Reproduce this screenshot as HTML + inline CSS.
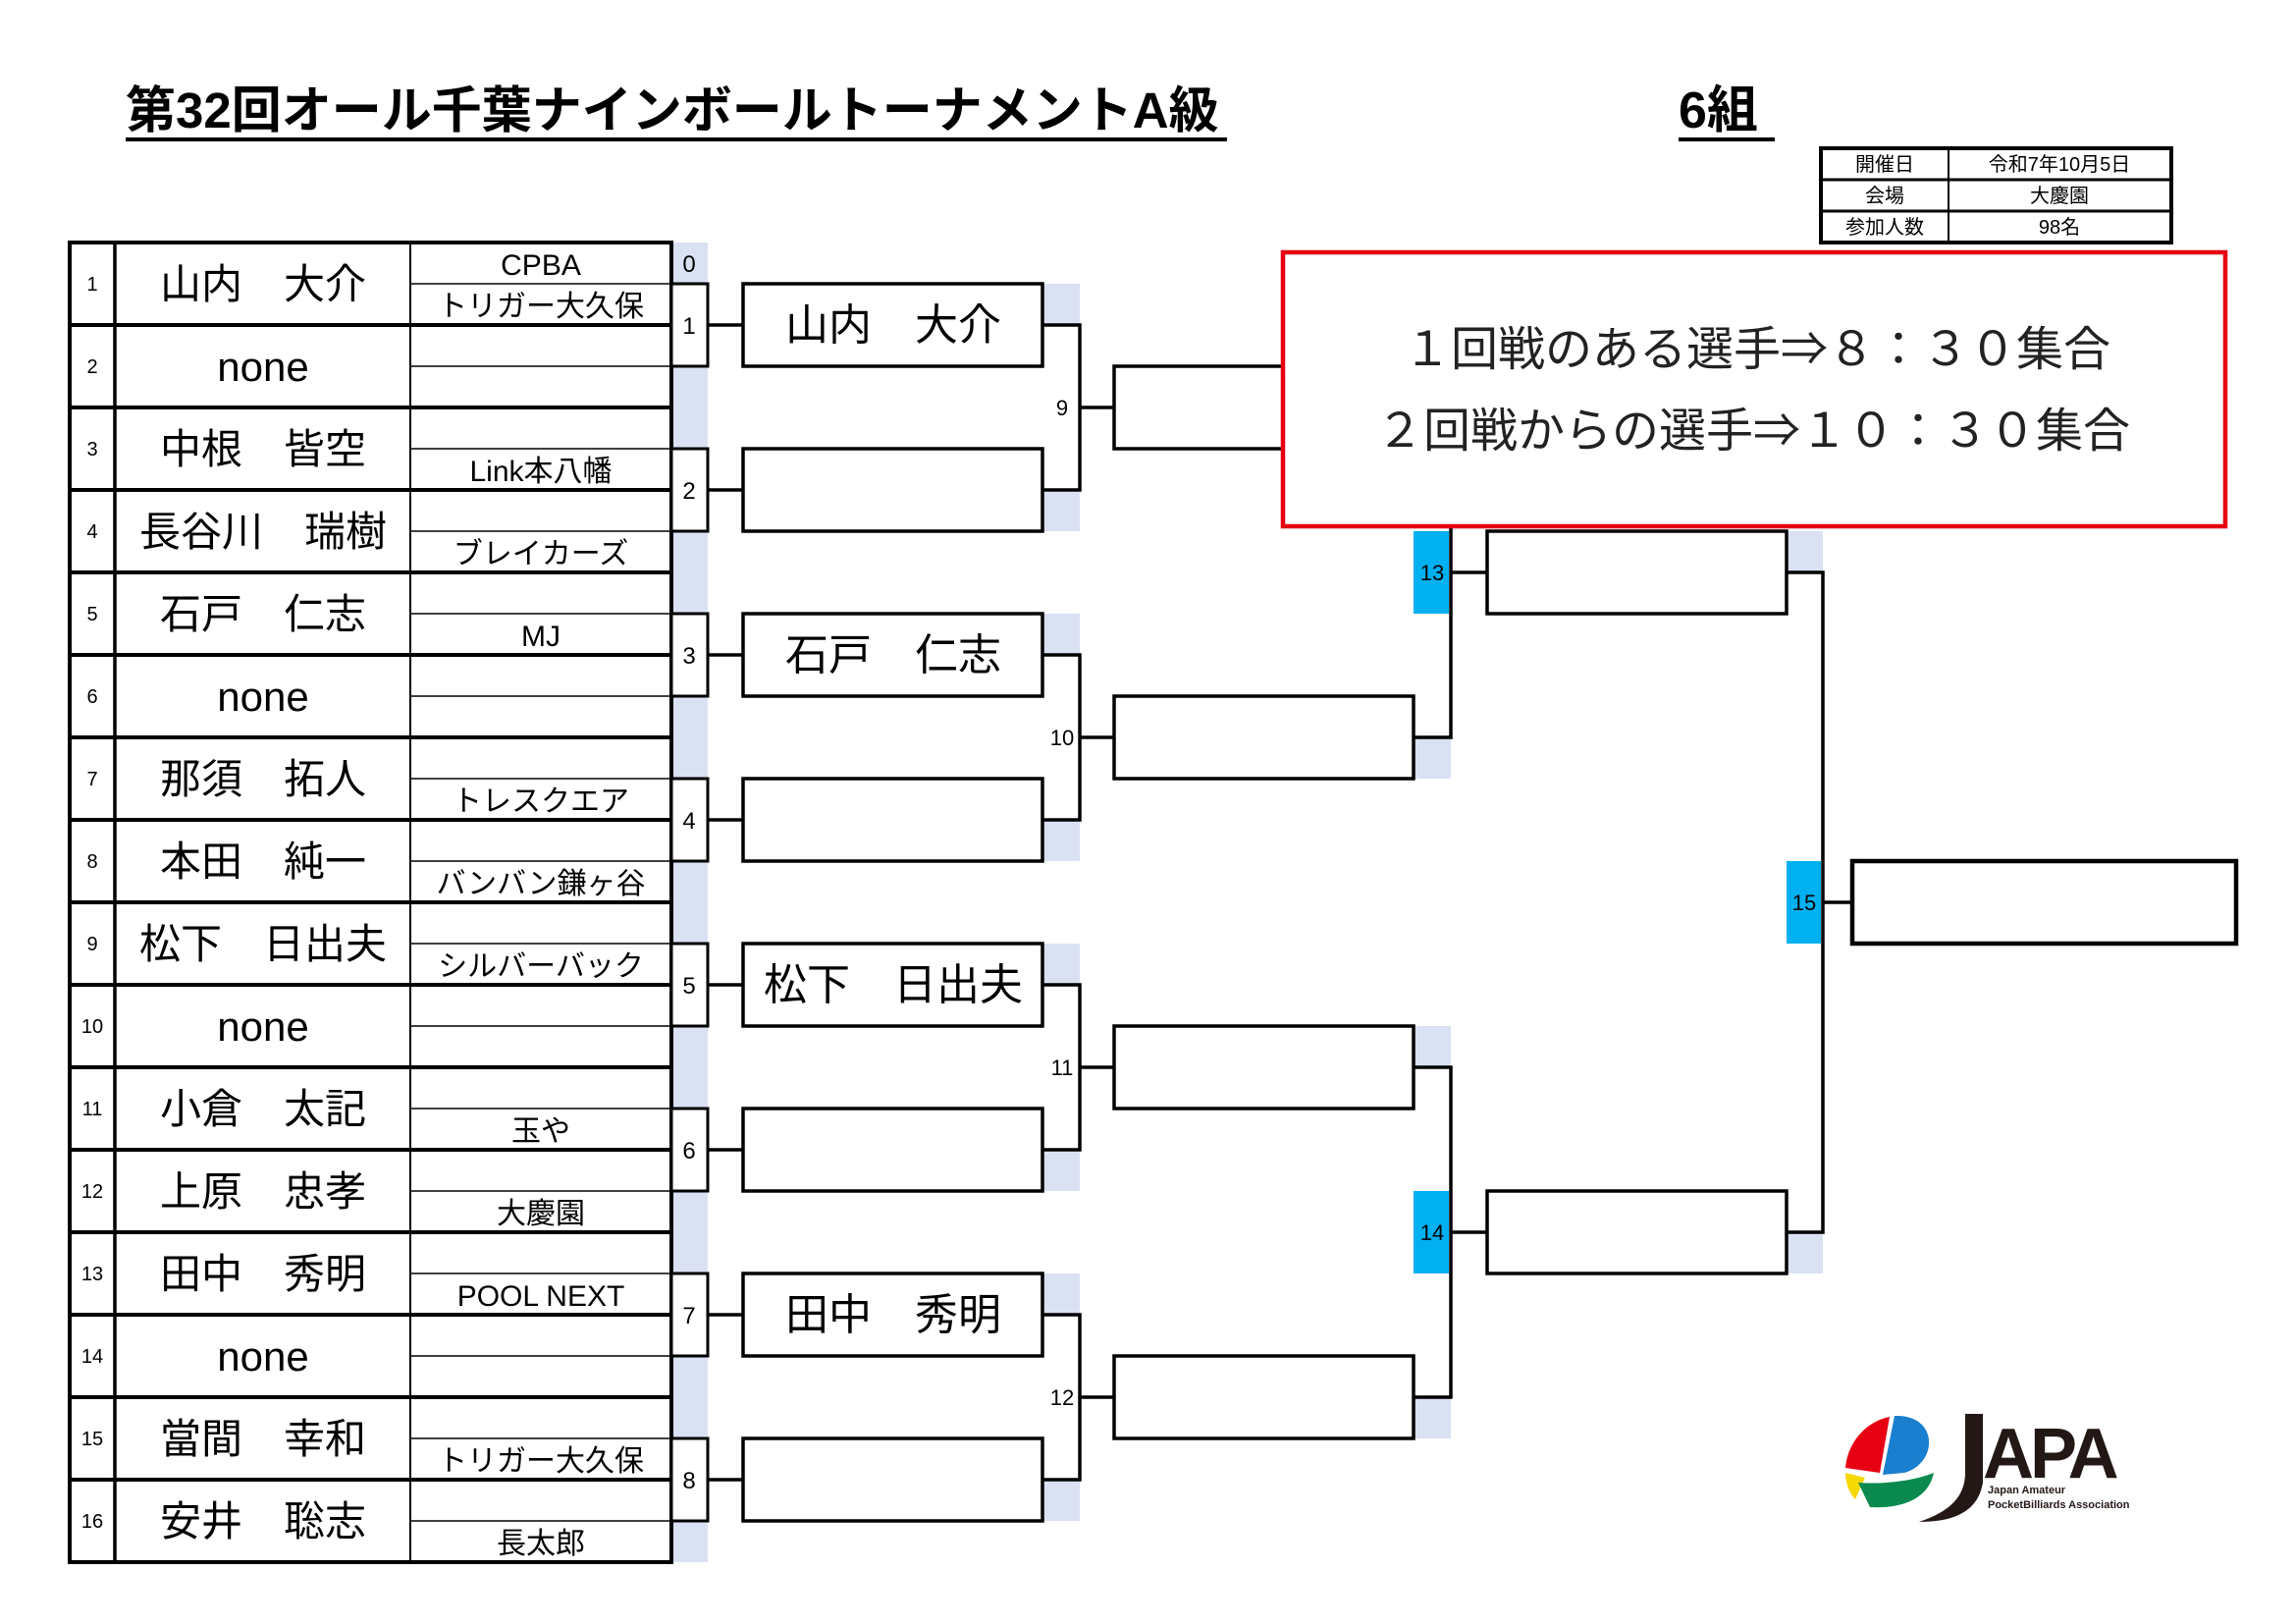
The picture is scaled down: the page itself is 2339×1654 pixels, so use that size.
<!DOCTYPE html>
<html><head><meta charset="utf-8"><style>
html,body{margin:0;padding:0;background:#fff;}
svg{display:block;}
text{font-family:"Liberation Sans","Noto Sans CJK JP",sans-serif;}
</style></head><body>
<svg width="2339" height="1654" viewBox="0 0 2339 1654" xmlns="http://www.w3.org/2000/svg">
<rect width="2339" height="1654" fill="#fff"/>
<!-- Title -->
<text x="128" y="130" font-size="51" font-weight="bold" fill="#000">第32回オール千葉ナインボールトーナメントA級</text>
<line x1="128" y1="142" x2="1250" y2="142" stroke="#000" stroke-width="4"/>
<text x="1710" y="130" font-size="52" font-weight="bold" fill="#000">6組</text>
<line x1="1710" y1="142" x2="1808" y2="142" stroke="#000" stroke-width="4"/>
<!-- Info table -->
<g stroke="#000" fill="none">
<rect x="1855" y="151" width="357" height="96" stroke-width="4"/>
<line x1="1985" y1="151" x2="1985" y2="247" stroke-width="2"/>
<line x1="1855" y1="183" x2="2212" y2="183" stroke-width="3"/>
<line x1="1855" y1="215" x2="2212" y2="215" stroke-width="3"/>
</g>
<g font-size="20" text-anchor="middle" fill="#000">
<text x="1920" y="174">開催日</text><text x="2098" y="174">令和7年10月5日</text>
<text x="1920" y="206">会場</text><text x="2098" y="206">大慶園</text>
<text x="1920" y="238">参加人数</text><text x="2098" y="238">98名</text>
</g>
<!-- shaded column -->
<rect x="684" y="247" width="37" height="1344" fill="#d9e1f2"/>
<!-- Main table lines -->
<g stroke="#000">
<g stroke-width="1.5">
<line x1="418" y1="289" x2="684" y2="289"/><line x1="418" y1="373" x2="684" y2="373"/>
<line x1="418" y1="457" x2="684" y2="457"/><line x1="418" y1="541" x2="684" y2="541"/>
<line x1="418" y1="625" x2="684" y2="625"/><line x1="418" y1="709" x2="684" y2="709"/>
<line x1="418" y1="793" x2="684" y2="793"/><line x1="418" y1="877" x2="684" y2="877"/>
<line x1="418" y1="961" x2="684" y2="961"/><line x1="418" y1="1045" x2="684" y2="1045"/>
<line x1="418" y1="1129" x2="684" y2="1129"/><line x1="418" y1="1213" x2="684" y2="1213"/>
<line x1="418" y1="1297" x2="684" y2="1297"/><line x1="418" y1="1381" x2="684" y2="1381"/>
<line x1="418" y1="1465" x2="684" y2="1465"/><line x1="418" y1="1549" x2="684" y2="1549"/>
</g>
<g stroke-width="4">
<line x1="71" y1="331" x2="684" y2="331"/><line x1="71" y1="415" x2="684" y2="415"/>
<line x1="71" y1="499" x2="684" y2="499"/><line x1="71" y1="583" x2="684" y2="583"/>
<line x1="71" y1="667" x2="684" y2="667"/><line x1="71" y1="751" x2="684" y2="751"/>
<line x1="71" y1="835" x2="684" y2="835"/><line x1="71" y1="919" x2="684" y2="919"/>
<line x1="71" y1="1003" x2="684" y2="1003"/><line x1="71" y1="1087" x2="684" y2="1087"/>
<line x1="71" y1="1171" x2="684" y2="1171"/><line x1="71" y1="1255" x2="684" y2="1255"/>
<line x1="71" y1="1339" x2="684" y2="1339"/><line x1="71" y1="1423" x2="684" y2="1423"/>
<line x1="71" y1="1507" x2="684" y2="1507"/>
</g>
<line x1="117" y1="247" x2="117" y2="1591" stroke-width="3.5"/>
<line x1="418" y1="247" x2="418" y2="1591" stroke-width="2"/>
<rect x="71" y="247" width="613" height="1344" fill="none" stroke-width="4"/>
</g>
<!-- row numbers -->
<g font-size="20" text-anchor="middle" fill="#000">
<text x="94" y="296">1</text><text x="94" y="380">2</text><text x="94" y="464">3</text><text x="94" y="548">4</text>
<text x="94" y="632">5</text><text x="94" y="716">6</text><text x="94" y="800">7</text><text x="94" y="884">8</text>
<text x="94" y="968">9</text><text x="94" y="1052">10</text><text x="94" y="1136">11</text><text x="94" y="1220">12</text>
<text x="94" y="1304">13</text><text x="94" y="1388">14</text><text x="94" y="1472">15</text><text x="94" y="1556">16</text>
</g>
<!-- names -->
<g font-size="42" text-anchor="middle" fill="#000">
<text x="268" y="304">山内　大介</text>
<text x="268" y="388">none</text>
<text x="268" y="472">中根　皆空</text>
<text x="268" y="556">長谷川　瑞樹</text>
<text x="268" y="640">石戸　仁志</text>
<text x="268" y="724">none</text>
<text x="268" y="808">那須　拓人</text>
<text x="268" y="892">本田　純一</text>
<text x="268" y="976">松下　日出夫</text>
<text x="268" y="1060">none</text>
<text x="268" y="1144">小倉　太記</text>
<text x="268" y="1228">上原　忠孝</text>
<text x="268" y="1312">田中　秀明</text>
<text x="268" y="1396">none</text>
<text x="268" y="1480">當間　幸和</text>
<text x="268" y="1564">安井　聡志</text>
</g>
<!-- teams -->
<g font-size="30" text-anchor="middle" fill="#000">
<text x="551" y="280">CPBA</text>
<text x="551" y="322">トリガー大久保</text>
<text x="551" y="490">Link本八幡</text>
<text x="551" y="574">ブレイカーズ</text>
<text x="551" y="658">MJ</text>
<text x="551" y="826">トレスクエア</text>
<text x="551" y="910">バンバン鎌ヶ谷</text>
<text x="551" y="994">シルバーバック</text>
<text x="551" y="1162">玉や</text>
<text x="551" y="1246">大慶園</text>
<text x="551" y="1330">POOL NEXT</text>
<text x="551" y="1498">トリガー大久保</text>
<text x="551" y="1582">長太郎</text>
</g>
<!-- match boxes round 1 -->
<g fill="#fff" stroke="#000" stroke-width="3">
<rect x="684" y="289" width="37" height="84"/><rect x="684" y="457" width="37" height="84"/>
<rect x="684" y="625" width="37" height="84"/><rect x="684" y="793" width="37" height="84"/>
<rect x="684" y="961" width="37" height="84"/><rect x="684" y="1129" width="37" height="84"/>
<rect x="684" y="1297" width="37" height="84"/><rect x="684" y="1465" width="37" height="84"/>
</g>
<g font-size="24" text-anchor="middle" fill="#000">
<text x="702" y="277">0</text>
<text x="702" y="340">1</text><text x="702" y="508">2</text><text x="702" y="676">3</text><text x="702" y="844">4</text>
<text x="702" y="1012">5</text><text x="702" y="1180">6</text><text x="702" y="1348">7</text><text x="702" y="1516">8</text>
</g>
<!-- shading -->
<g fill="#d9e1f2">
<rect x="1062" y="289" width="38" height="42"/><rect x="1062" y="499" width="38" height="42"/>
<rect x="1062" y="625" width="38" height="42"/><rect x="1062" y="835" width="38" height="42"/>
<rect x="1062" y="961" width="38" height="42"/><rect x="1062" y="1171" width="38" height="42"/>
<rect x="1062" y="1297" width="38" height="42"/><rect x="1062" y="1507" width="38" height="42"/>
<rect x="1440" y="373" width="38" height="42"/><rect x="1440" y="751" width="38" height="42"/>
<rect x="1440" y="1045" width="38" height="42"/><rect x="1440" y="1423" width="38" height="42"/>
<rect x="1820" y="541" width="37" height="42"/><rect x="1820" y="1255" width="37" height="42"/>
</g>
<!-- blue cells -->
<g fill="#00b0f0">
<rect x="1440" y="541" width="36" height="84"/>
<rect x="1440" y="1213" width="36" height="84"/>
<rect x="1820" y="877" width="35" height="84"/>
</g>
<!-- connectors -->
<g stroke="#000" stroke-width="3.5" fill="none">
<line x1="721" y1="331" x2="757" y2="331"/><line x1="721" y1="499" x2="757" y2="499"/>
<line x1="721" y1="667" x2="757" y2="667"/><line x1="721" y1="835" x2="757" y2="835"/>
<line x1="721" y1="1003" x2="757" y2="1003"/><line x1="721" y1="1171" x2="757" y2="1171"/>
<line x1="721" y1="1339" x2="757" y2="1339"/><line x1="721" y1="1507" x2="757" y2="1507"/>
<polyline points="1062,331 1100,331 1100,499 1062,499"/><line x1="1100" y1="415" x2="1135" y2="415"/>
<polyline points="1062,667 1100,667 1100,835 1062,835"/><line x1="1100" y1="751" x2="1135" y2="751"/>
<polyline points="1062,1003 1100,1003 1100,1171 1062,1171"/><line x1="1100" y1="1087" x2="1135" y2="1087"/>
<polyline points="1062,1339 1100,1339 1100,1507 1062,1507"/><line x1="1100" y1="1423" x2="1135" y2="1423"/>
<polyline points="1440,415 1478,415 1478,751 1440,751"/><line x1="1478" y1="583" x2="1515" y2="583"/>
<polyline points="1440,1087 1478,1087 1478,1423 1440,1423"/><line x1="1478" y1="1255" x2="1515" y2="1255"/>
<polyline points="1820,583 1857,583 1857,1255 1820,1255"/><line x1="1857" y1="919" x2="1887" y2="919"/>
</g>
<!-- boxes -->
<g fill="#fff" stroke="#000" stroke-width="3.5">
<rect x="757" y="289" width="305" height="84"/><rect x="757" y="457" width="305" height="84"/>
<rect x="757" y="625" width="305" height="84"/><rect x="757" y="793" width="305" height="84"/>
<rect x="757" y="961" width="305" height="84"/><rect x="757" y="1129" width="305" height="84"/>
<rect x="757" y="1297" width="305" height="84"/><rect x="757" y="1465" width="305" height="84"/>
<rect x="1135" y="373" width="305" height="84"/><rect x="1135" y="709" width="305" height="84"/>
<rect x="1135" y="1045" width="305" height="84"/><rect x="1135" y="1381" width="305" height="84"/>
<rect x="1515" y="541" width="305" height="84"/><rect x="1515" y="1213" width="305" height="84"/>
<rect x="1887" y="877" width="391" height="84" stroke-width="4.5"/>
</g>
<g font-size="22" text-anchor="middle" fill="#000">
<text x="1082" y="423">9</text><text x="1082" y="759">10</text><text x="1082" y="1095">11</text><text x="1082" y="1431">12</text>
<text x="1459" y="591">13</text><text x="1459" y="1263">14</text><text x="1838" y="927">15</text>
</g>
<g font-size="44" text-anchor="middle" fill="#000">
<text x="910" y="346">山内　大介</text>
<text x="910" y="682">石戸　仁志</text>
<text x="910" y="1018">松下　日出夫</text>
<text x="910" y="1354">田中　秀明</text>
</g>
<!-- red notice box -->
<rect x="1307" y="257" width="960" height="279" fill="#fff" stroke="#e60012" stroke-width="4.5"/>
<g font-size="48" fill="#222">
<text x="1430" y="372">１回戦のある選手⇒８：３０集合</text>
<text x="1402" y="455">２回戦からの選手⇒１０：３０集合</text>
</g>
<!-- logo -->
<g>
<path d="M1925,1443 C1900,1448 1882,1470 1880,1495 L1915,1500 Z" fill="#e60012"/>
<path d="M1930,1442 C1975,1440 1975,1490 1940,1500 L1918,1502 Z" fill="#1a7fcf"/>
<path d="M1880,1500 C1880,1512 1885,1522 1890,1527 L1900,1505 Z" fill="#f5d800"/>
<path d="M1893,1510 C1920,1512 1950,1508 1970,1500 C1965,1525 1940,1537 1905,1535 Z" fill="#0a8a4f"/>
<path d="M2002,1440 L2020,1440 L2020,1510 C2015,1540 1990,1550 1955,1550 C1985,1540 2002,1525 2002,1500 Z" fill="#231815"/>
<text x="2020" y="1505" font-size="72" font-weight="bold" fill="#231815" letter-spacing="-4">APA</text>
<text x="2025" y="1521" font-size="11" font-weight="bold" fill="#231815">Japan Amateur</text>
<text x="2025" y="1536" font-size="11" font-weight="bold" fill="#231815">PocketBilliards Association</text>
</g>
</svg>
</body></html>
